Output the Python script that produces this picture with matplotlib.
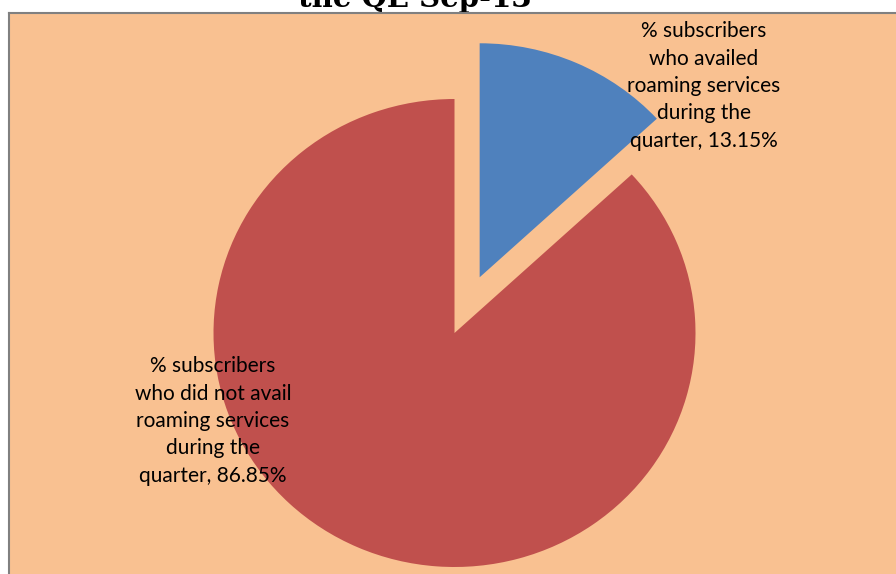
import matplotlib
matplotlib.use("Agg")
import matplotlib.pyplot as plt
from matplotlib.patches import Rectangle
from matplotlib.lines import Line2D

# data
labels = ["% subscribers\nwho availed\nroaming services\nduring the\nquarter, 13.15%",
          "% subscribers\nwho did not avail\nroaming services\nduring the\nquarter, 86.85%"]
shares = [13.15, 86.85]
colors = ["#4F81BD", "#C0504D"]
title = "the QE Sep-13"

W, H = 896, 574
fig = plt.figure(figsize=(W / 100, H / 100), dpi=100)
fig.patch.set_facecolor("white")

# chart area background with top/left border
fig.patches.append(Rectangle((9 / W, 0), 1 - 9 / W, 1 - 13 / H, transform=fig.transFigure,
                             facecolor="#F9C191", edgecolor="none", zorder=-5))
fig.lines.append(Line2D([9 / W, 1], [1 - 13 / H, 1 - 13 / H], transform=fig.transFigure,
                        color="#808080", lw=1.5, zorder=5))
fig.lines.append(Line2D([9 / W, 9 / W], [0, 1 - 13 / H], transform=fig.transFigure,
                        color="#808080", lw=1.5, zorder=5))

ax = fig.add_axes([0, 0, 1, 1])
ax.set_zorder(1)
ax.patch.set_alpha(0)
ax.pie(shares, colors=colors, startangle=90, counterclock=False,
       explode=[0.26, 0], radius=1, center=(0, 0),
       wedgeprops=dict(linewidth=0))
# pie is slightly wider than tall in the reference
cx, cy, rx, ry = 454.5, 333, 241, 234
ax.set_aspect("auto")
ax.set_xlim(-cx / rx, (W - cx) / rx)
ax.set_ylim(-(H - cy) / ry, cy / ry)
ax.axis("off")

# data labels
ax.text(704 / W, 1 - 86 / H, labels[0], transform=fig.transFigure, ha="center", va="center",
        fontsize=15, family="Lato", color="black", linespacing=1.46, zorder=10)
ax.text(213 / W, 1 - 421 / H, labels[1], transform=fig.transFigure, ha="center", va="center",
        fontsize=15, family="Lato", color="black", linespacing=1.46, zorder=10)

# title, cut off at the top as in the reference
fig.text(415 / W, 1 - 7 / H, title, ha="center", va="baseline", fontsize=21,
         family="DejaVu Serif", fontweight="bold", color="black")

fig.savefig("out.png", dpi=100, facecolor=fig.get_facecolor())
